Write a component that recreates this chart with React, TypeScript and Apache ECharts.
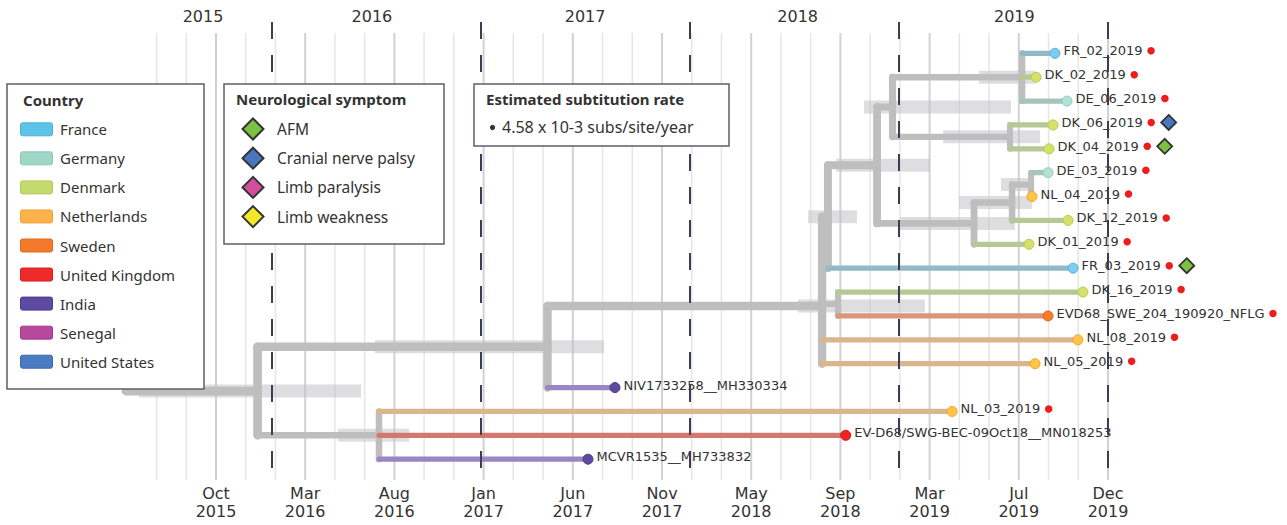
import React, { useEffect, useRef } from 'react';
import * as echarts from 'echarts';

// ---------------- data ----------------
const tipNames = [
  'FR_02_2019', 'DK_02_2019', 'DE_06_2019', 'DK_06_2019', 'DK_04_2019', 'DE_03_2019',
  'NL_04_2019', 'DK_12_2019', 'DK_01_2019', 'FR_03_2019', 'DK_16_2019',
  'EVD68_SWE_204_190920_NFLG', 'NL_08_2019', 'NL_05_2019', 'NIV1733258__MH330334',
  'NL_03_2019', 'EV-D68/SWG-BEC-09Oct18__MN018253', 'MCVR1535__MH733832',
];
const tipCountries = [
  'France', 'Denmark', 'Germany', 'Denmark', 'Denmark', 'Germany',
  'Netherlands', 'Denmark', 'Denmark', 'France', 'Denmark',
  'Sweden', 'Netherlands', 'Netherlands', 'India',
  'Netherlands', 'United Kingdom', 'India',
];
const tipDates = [
  2019.746, 2019.656, 2019.804, 2019.737, 2019.718, 2019.713,
  2019.636, 2019.809, 2019.622, 2019.833, 2019.880,
  2019.713, 2019.856, 2019.651, 2017.641,
  2019.254, 2018.745, 2017.512,
];
const tipParents = ['H', 'H', 'H', 'I', 'I', 'L', 'L', 'K', 'J', 'D2', 'E', 'E', 'D', 'D', 'B', 'C', 'C', 'C'];
const tipMarked = [1, 1, 1, 1, 1, 1, 1, 1, 1, 1, 1, 1, 1, 1, 0, 1, 0, 0];
const tipSymptoms = ['', '', '', 'Cranial nerve palsy', 'AFM', '', '', '', '', 'AFM', '', '', '', '', '', '', '', ''];

const nodeIds = ['R', 'A', 'B', 'C', 'D', 'D2', 'E', 'F', 'G', 'H', 'I', 'J', 'K', 'L'];
const nodeParents = ['', 'R', 'A', 'A', 'B', 'D', 'D', 'D2', 'F', 'G', 'G', 'F', 'J', 'K'];
const nodeDates = [2015.301, 2015.931, 2017.318, 2016.512, 2018.632, 2018.660, 2018.708, 2018.895, 2018.969, 2019.589, 2019.531, 2019.359, 2019.541, 2019.632];
const nodeCiLow = [NaN, 2015.364, 2016.493, 2016.316, 2018.517, 2018.565, NaN, 2018.699, 2018.833, 2019.383, 2019.211, 2019.005, 2019.287, 2019.488];
const nodeCiHigh = [NaN, 2016.426, 2017.589, 2016.656, 2019.124, 2018.799, NaN, 2019.148, 2019.536, 2019.651, 2019.675, 2019.555, 2019.636, 2019.646];

const tickLabels = ['Oct\n2015', 'Mar\n2016', 'Aug\n2016', 'Jan\n2017', 'Jun\n2017', 'Nov\n2017', 'May\n2018', 'Sep\n2018', 'Mar\n2019', 'Jul\n2019', 'Dec\n2019'];
const tickFirst = 2015.732;
const tickStep = 0.4268;
const minorPerMajor = 3;
const minorFrom = -2;
const minorTo = 30;

const yearBoundaries = [2016, 2017, 2018, 2019, 2020];
const yearLabels = ['2015', '2016', '2017', '2018', '2019'];
const yearLabelDates = [2015.67, 2016.478, 2017.498, 2018.515, 2019.552];

const countryNames = ['France', 'Germany', 'Denmark', 'Netherlands', 'Sweden', 'United Kingdom', 'India', 'Senegal', 'United States'];
const symptomNames = ['AFM', 'Cranial nerve palsy', 'Limb paralysis', 'Limb weakness'];
const countryTitle = 'Country';
const symptomTitle = 'Neurological symptom';
const rateTitle = 'Estimated subtitution rate';
const rateText = '4.58 x 10-3 subs/site/year';

// ---------------- styles ----------------
const countryStyle: Record<string, { swatch: string; swatchStroke: string; branch: string; fill: string; stroke: string }> = {
  France: { swatch: '#5ec4e7', swatchStroke: '#4aaed6', branch: '#93b8c6', fill: '#7dcdf0', stroke: '#55b2dc' },
  Germany: { swatch: '#9fd7c7', swatchStroke: '#8cc8b7', branch: '#a5c4ba', fill: '#b3e1d6', stroke: '#8dcdbd' },
  Denmark: { swatch: '#c3db6d', swatchStroke: '#b0c95a', branch: '#b6c994', fill: '#d4e26c', stroke: '#b7ca50' },
  Netherlands: { swatch: '#ffb24b', swatchStroke: '#f2a03a', branch: '#d9b68c', fill: '#ffc44a', stroke: '#f1a431' },
  Sweden: { swatch: '#f47a2b', swatchStroke: '#e2681c', branch: '#d99679', fill: '#f67c2a', stroke: '#e0651b' },
  'United Kingdom': { swatch: '#ee2a2b', swatchStroke: '#d81d1e', branch: '#d4776f', fill: '#ee2323', stroke: '#db1616' },
  India: { swatch: '#5c4ba0', swatchStroke: '#4a3b8c', branch: '#9b85c2', fill: '#5d4ba1', stroke: '#4a3a8e' },
  Senegal: { swatch: '#b8489e', swatchStroke: '#a3388b', branch: '#c48ab6', fill: '#b8489e', stroke: '#a3388b' },
  'United States': { swatch: '#4b7bc3', swatchStroke: '#3a69b0', branch: '#8aa5c8', fill: '#4b7bc3', stroke: '#3a69b0' },
};
const symptomColor: Record<string, string> = {
  AFM: '#7cc242',
  'Cranial nerve palsy': '#4a76c0',
  'Limb paralysis': '#d24e9c',
  'Limb weakness': '#f4e826',
};
const GRAY = '#bebebe';
const TEXT = '#333333';
const BOX_STROKE = '#5b5e6c';

type TNode = { id: string; parent: string; date: number; tip: boolean; idx: number; y: number; n: number; children: TNode[] };

export default function App() {
  const ref = useRef<HTMLDivElement>(null);

  useEffect(() => {
    if (!ref.current) return;
    const chart = echarts.init(ref.current, null, { renderer: 'svg' });

    // ---- tree layout ----
    const map = new Map<string, TNode>();
    nodeIds.forEach((id, i) => map.set(id, { id, parent: nodeParents[i], date: nodeDates[i], tip: false, idx: i, y: 0, n: 0, children: [] }));
    tipNames.forEach((_, i) => map.set('tip' + i, { id: 'tip' + i, parent: tipParents[i], date: tipDates[i], tip: true, idx: i, y: i, n: 1, children: [] }));
    map.forEach((nd) => { if (nd.parent) map.get(nd.parent)!.children.push(nd); });
    const layout = (nd: TNode) => {
      if (nd.tip) return;
      nd.children.forEach(layout);
      nd.y = nd.children.reduce((s, c) => s + c.y, 0) / nd.children.length;
      nd.n = nd.children.reduce((s, c) => s + c.n, 0);
    };
    const root = map.get('R')!;
    layout(root);
    const bw = (n: number) => 5.2 + 1.2 * Math.log(n);

    type Seg = { x1: number; y1: number; x2: number; y2: number; w: number; c: string };
    const graySegs: Seg[] = [];
    const tipSegs: Seg[] = [];
    map.forEach((nd) => {
      if (!nd.tip && nd.children.length) {
        const ys = nd.children.map((c) => c.y);
        const lo = Math.min(...ys), hi = Math.max(...ys);
        if (hi > lo) graySegs.push({ x1: nd.date, y1: lo, x2: nd.date, y2: hi, w: bw(nd.n), c: GRAY });
      }
      if (nd.parent) {
        const p = map.get(nd.parent)!;
        const seg = { x1: p.date, y1: nd.y, x2: nd.date, y2: nd.y, w: bw(nd.n), c: nd.tip ? countryStyle[tipCountries[nd.idx]].branch : GRAY };
        if (nd.tip) tipSegs.push(seg); else graySegs.push(seg);
      }
    });
    const ciBars: { lo: number; hi: number; y: number }[] = [];
    nodeIds.forEach((id, i) => {
      if (!isNaN(nodeCiLow[i])) ciBars.push({ lo: nodeCiLow[i], hi: nodeCiHigh[i], y: map.get(id)!.y });
    });

    const tickValues = tickLabels.map((_, i) => tickFirst + i * tickStep);
    const gridValues: [number, number][] = [];
    for (let k = minorFrom; k <= minorTo; k++) gridValues.push([tickFirst + (k * tickStep) / minorPerMajor, k % minorPerMajor === 0 ? 1 : 0]);

    // ---- text widths for markers after labels ----
    const cvs = document.createElement('canvas').getContext('2d')!;
    cvs.font = '13px "DejaVu Sans"';
    const labelW = tipNames.map((t) => cvs.measureText(t).width);

    const segRender = (segs: Seg[]) => (params: any, api: any) => {
      const s = segs[params.dataIndex];
      const a = api.coord([s.x1, s.y1]);
      const b = api.coord([s.x2, s.y2]);
      return { type: 'line', shape: { x1: a[0], y1: a[1], x2: b[0], y2: b[1] }, style: { stroke: s.c, lineWidth: s.w, lineCap: 'round' }, silent: true };
    };

    // ---- legends (graphic) ----
    const g: any[] = [];
    const Z = 50;
    g.push({ type: 'rect', z: Z, shape: { x: 7, y: 84, width: 197, height: 305 }, style: { fill: '#fff', stroke: BOX_STROKE, lineWidth: 1.5 } });
    g.push({ type: 'text', z: Z + 1, x: 23, y: 100, style: { text: countryTitle, fontFamily: 'Noto Sans', fontWeight: 'bold', fontSize: 15, fill: TEXT, align: 'left', verticalAlign: 'middle' } });
    countryNames.forEach((nm, i) => {
      const cy = 129.3 + 29.05 * i;
      g.push({ type: 'rect', z: Z + 1, shape: { x: 20.5, y: cy - 6.5, width: 32, height: 13, r: 2 }, style: { fill: countryStyle[nm].swatch, stroke: countryStyle[nm].swatchStroke, lineWidth: 1 } });
      g.push({ type: 'text', z: Z + 1, x: 60, y: cy, style: { text: nm, fontFamily: 'Noto Sans', fontSize: 15, fill: TEXT, align: 'left', verticalAlign: 'middle' } });
    });
    g.push({ type: 'rect', z: Z, shape: { x: 224, y: 84, width: 220, height: 160 }, style: { fill: '#fff', stroke: BOX_STROKE, lineWidth: 1.5 } });
    g.push({ type: 'text', z: Z + 1, x: 236, y: 99, style: { text: symptomTitle, fontFamily: 'Noto Sans', fontWeight: 'bold', fontSize: 15, fill: TEXT, align: 'left', verticalAlign: 'middle' } });
    symptomNames.forEach((nm, i) => {
      const cy = 129 + 29.2 * i;
      const cx = 253;
      const h = 10.5;
      g.push({ type: 'polygon', z: Z + 1, shape: { points: [[cx, cy - h], [cx + h, cy], [cx, cy + h], [cx - h, cy]] }, style: { fill: symptomColor[nm], stroke: '#333', lineWidth: 2 } });
      g.push({ type: 'text', z: Z + 1, x: 277, y: cy, style: { text: nm, fontFamily: 'Noto Sans', fontSize: 15.5, fill: TEXT, align: 'left', verticalAlign: 'middle' } });
    });
    g.push({ type: 'rect', z: Z, shape: { x: 474, y: 84, width: 255, height: 62 }, style: { fill: '#fff', stroke: BOX_STROKE, lineWidth: 1.5 } });
    g.push({ type: 'text', z: Z + 1, x: 486, y: 99, style: { text: rateTitle, fontFamily: 'Noto Sans', fontWeight: 'bold', fontSize: 15, fill: TEXT, align: 'left', verticalAlign: 'middle' } });
    g.push({ type: 'circle', z: Z + 1, shape: { cx: 492.5, cy: 127.5, r: 2.6 }, style: { fill: TEXT } });
    g.push({ type: 'text', z: Z + 1, x: 502, y: 127, style: { text: rateText, fontFamily: 'Noto Sans', fontSize: 16, fill: TEXT, align: 'left', verticalAlign: 'middle' } });

    const axisCommon = {
      type: 'value',
      min: 2015.2,
      max: 2020.8,
      axisLine: { show: false },
      axisTick: { show: false },
      splitLine: { show: false },
    };

    const nearest = (arr: number[], v: number) => {
      let bi = 0;
      arr.forEach((t, i) => { if (Math.abs(t - v) < Math.abs(arr[bi] - v)) bi = i; });
      return bi;
    };

    const option: any = {
      animation: false,
      grid: { left: 104.8, top: 22, width: 1170.4, height: 458 },
      xAxis: [
        {
          ...axisCommon,
          position: 'bottom',
          axisLabel: {
            customValues: tickValues,
            interval: 0,
            formatter: (v: number) => tickLabels[nearest(tickValues, v)],
            fontFamily: 'DejaVu Sans',
            fontSize: 16,
            lineHeight: 18,
            color: TEXT,
            margin: 4,
          },
        },
        {
          ...axisCommon,
          position: 'top',
          axisLabel: {
            customValues: yearLabelDates,
            interval: 0,
            formatter: (v: number) => yearLabels[nearest(yearLabelDates, v)],
            fontFamily: 'DejaVu Sans',
            fontSize: 16,
            lineHeight: 16,
            color: TEXT,
            margin: -2,
          },
        },
      ],
      yAxis: { type: 'value', inverse: true, min: -1.311, max: 17.872, show: false },
      graphic: { elements: g },
      series: [
        {
          type: 'custom', z: 1, silent: true,
          data: gridValues,
          renderItem: (params: any, api: any) => {
            const p = api.coord([api.value(0), 0]);
            const major = api.value(1) === 1;
            const cs = params.coordSys;
            return { type: 'line', shape: { x1: p[0], y1: cs.y + 11, x2: p[0], y2: cs.y + cs.height }, style: { stroke: major ? '#d2d2d2' : '#e6e6e6', lineWidth: major ? 2 : 1.5 }, silent: true };
          },
        },
        {
          type: 'custom', z: 2, silent: true,
          data: ciBars.map((b) => [b.lo, b.y, b.hi]),
          renderItem: (params: any, api: any) => {
            const b = ciBars[params.dataIndex];
            const a = api.coord([b.lo, b.y]);
            const c = api.coord([b.hi, b.y]);
            return { type: 'rect', shape: { x: a[0], y: a[1] - 6.5, width: c[0] - a[0], height: 13 }, style: { fill: 'rgba(192,192,198,0.52)' }, silent: true };
          },
        },
        {
          type: 'custom', z: 3, silent: true,
          data: graySegs.map((s) => [s.x1, s.y1, s.x2, s.y2]),
          renderItem: segRender(graySegs),
        },
        {
          type: 'custom', z: 4, silent: true,
          data: tipSegs.map((s) => [s.x1, s.y1, s.x2, s.y2]),
          renderItem: segRender(tipSegs),
        },
        {
          type: 'custom', z: 20, silent: true,
          data: yearBoundaries.map((v) => [v, 0]),
          renderItem: (params: any, api: any) => {
            const p = api.coord([api.value(0), 0]);
            const cs = params.coordSys;
            return { type: 'line', shape: { x1: p[0], y1: cs.y, x2: p[0], y2: cs.y + cs.height - 2 }, style: { stroke: '#3b3e52', lineWidth: 2, lineDash: [17, 16] }, silent: true };
          },
        },
        {
          type: 'scatter', z: 6, silent: true,
          symbolSize: 10,
          data: tipNames.map((name, i) => {
            const st = countryStyle[tipCountries[i]];
            return { name, value: [tipDates[i], i], itemStyle: { color: st.fill, borderColor: st.stroke, borderWidth: 1, opacity: 1 } };
          }),
          itemStyle: { opacity: 1 },
          label: {
            show: true,
            position: 'right',
            distance: 3,
            offset: [0, -2.5],
            formatter: (p: any) => p.name,
            fontFamily: 'DejaVu Sans',
            fontSize: 13,
            color: TEXT,
          },
        },
        {
          type: 'scatter', z: 6, silent: true,
          symbolSize: 7.5,
          itemStyle: { color: '#ee1c1c', opacity: 1 },
          data: tipNames.map((_, i) => i).filter((i) => tipMarked[i]).map((i) => ({ value: [tipDates[i], i], symbolOffset: [8 + labelW[i] + 9, -2.5] })),
        },
        {
          type: 'scatter', z: 6, silent: true,
          symbol: 'diamond',
          symbolSize: 15,
          itemStyle: { opacity: 1 },
          data: tipNames.map((_, i) => i).filter((i) => tipSymptoms[i]).map((i) => ({
            value: [tipDates[i], i],
            symbolOffset: [8 + labelW[i] + 9 + 17.5, -2.5],
            itemStyle: { color: symptomColor[tipSymptoms[i]], borderColor: '#333', borderWidth: 1.8, opacity: 1 },
          })),
        },
      ],
    };

    chart.setOption(option);
    return () => chart.dispose();
  }, []);

  return <div ref={ref} style={{ position: 'absolute', left: 0, top: 0, width: 1287, height: 525, background: '#fff' }} />;
}
